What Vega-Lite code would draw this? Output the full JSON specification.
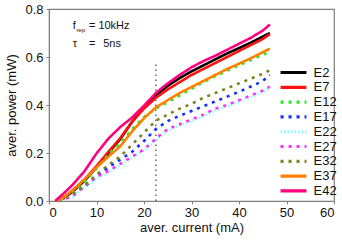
{
  "$schema": "https://vega.github.io/schema/vega-lite/v6.json",
  "autosize": "none",
  "width": 285,
  "height": 192,
  "padding": {"left": 49, "top": 9, "right": 8, "bottom": 39},
  "background": "white",
  "config": {
    "font": "Liberation Sans",
    "view": {"stroke": "#7f7f7f", "strokeWidth": 1.2},
    "axis": {"grid": false, "domainColor": "#7f7f7f", "tickColor": "#7f7f7f", "labelFont": "Liberation Sans", "titleFont": "Liberation Sans", "labelFontSize": 13, "titleFontSize": 13, "titleFontWeight": "normal", "labelColor": "#111", "titleColor": "#111", "tickSize": 3}
  },
  "datasets": {
    "curves": [
      {"s":"E2","x":2,"y":0},{"s":"E2","x":3,"y":0.01},{"s":"E2","x":5,"y":0.04},{"s":"E2","x":7.5,"y":0.085},{"s":"E2","x":10,"y":0.14},{"s":"E2","x":12.5,"y":0.2},{"s":"E2","x":15,"y":0.258},{"s":"E2","x":17.5,"y":0.33},{"s":"E2","x":20,"y":0.39},{"s":"E2","x":22.5,"y":0.44},{"s":"E2","x":25,"y":0.48},{"s":"E2","x":27.5,"y":0.512},{"s":"E2","x":30,"y":0.54},{"s":"E2","x":32.5,"y":0.565},{"s":"E2","x":35,"y":0.59},{"s":"E2","x":37.5,"y":0.615},{"s":"E2","x":40,"y":0.637},{"s":"E2","x":42.5,"y":0.66},{"s":"E2","x":45,"y":0.685},{"s":"E2","x":46.5,"y":0.7},
      {"s":"E7","x":2,"y":0},{"s":"E7","x":3,"y":0.012},{"s":"E7","x":5,"y":0.045},{"s":"E7","x":7.5,"y":0.09},{"s":"E7","x":10,"y":0.145},{"s":"E7","x":12.5,"y":0.205},{"s":"E7","x":15,"y":0.262},{"s":"E7","x":17.5,"y":0.33},{"s":"E7","x":20,"y":0.385},{"s":"E7","x":22.5,"y":0.43},{"s":"E7","x":25,"y":0.465},{"s":"E7","x":27.5,"y":0.495},{"s":"E7","x":30,"y":0.525},{"s":"E7","x":32.5,"y":0.55},{"s":"E7","x":35,"y":0.575},{"s":"E7","x":37.5,"y":0.6},{"s":"E7","x":40,"y":0.625},{"s":"E7","x":42.5,"y":0.65},{"s":"E7","x":45,"y":0.675},{"s":"E7","x":46.5,"y":0.695},
      {"s":"E12","x":2,"y":0},{"s":"E12","x":3,"y":0.01},{"s":"E12","x":5,"y":0.035},{"s":"E12","x":7.5,"y":0.08},{"s":"E12","x":10,"y":0.135},{"s":"E12","x":12.5,"y":0.195},{"s":"E12","x":15,"y":0.24},{"s":"E12","x":17.5,"y":0.3},{"s":"E12","x":20,"y":0.35},{"s":"E12","x":22.5,"y":0.385},{"s":"E12","x":25,"y":0.412},{"s":"E12","x":27.5,"y":0.44},{"s":"E12","x":30,"y":0.468},{"s":"E12","x":32.5,"y":0.495},{"s":"E12","x":35,"y":0.52},{"s":"E12","x":37.5,"y":0.543},{"s":"E12","x":40,"y":0.565},{"s":"E12","x":42.5,"y":0.587},{"s":"E12","x":45,"y":0.61},{"s":"E12","x":46.5,"y":0.62},
      {"s":"E17","x":2,"y":0},{"s":"E17","x":5,"y":0.025},{"s":"E17","x":7.5,"y":0.06},{"s":"E17","x":10,"y":0.1},{"s":"E17","x":12.5,"y":0.14},{"s":"E17","x":15,"y":0.172},{"s":"E17","x":17.5,"y":0.205},{"s":"E17","x":20,"y":0.25},{"s":"E17","x":22.5,"y":0.3},{"s":"E17","x":25,"y":0.333},{"s":"E17","x":27.5,"y":0.355},{"s":"E17","x":30,"y":0.375},{"s":"E17","x":32.5,"y":0.395},{"s":"E17","x":35,"y":0.415},{"s":"E17","x":37.5,"y":0.435},{"s":"E17","x":40,"y":0.455},{"s":"E17","x":42.5,"y":0.477},{"s":"E17","x":45,"y":0.5},{"s":"E17","x":46.5,"y":0.525},
      {"s":"E22","x":2,"y":0},{"s":"E22","x":5,"y":0.018},{"s":"E22","x":7.5,"y":0.058},{"s":"E22","x":10,"y":0.093},{"s":"E22","x":12.5,"y":0.12},{"s":"E22","x":15,"y":0.15},{"s":"E22","x":17.5,"y":0.18},{"s":"E22","x":20,"y":0.21},{"s":"E22","x":22.5,"y":0.255},{"s":"E22","x":25,"y":0.293},{"s":"E22","x":27.5,"y":0.313},{"s":"E22","x":30,"y":0.333},{"s":"E22","x":32.5,"y":0.353},{"s":"E22","x":35,"y":0.378},{"s":"E22","x":37.5,"y":0.394},{"s":"E22","x":40,"y":0.414},{"s":"E22","x":42.5,"y":0.434},{"s":"E22","x":45,"y":0.455},{"s":"E22","x":46.5,"y":0.472},
      {"s":"E27","x":2,"y":0},{"s":"E27","x":5,"y":0.02},{"s":"E27","x":7.5,"y":0.065},{"s":"E27","x":10,"y":0.1},{"s":"E27","x":12.5,"y":0.125},{"s":"E27","x":15,"y":0.155},{"s":"E27","x":17.5,"y":0.185},{"s":"E27","x":20,"y":0.215},{"s":"E27","x":22.5,"y":0.26},{"s":"E27","x":25,"y":0.3},{"s":"E27","x":27.5,"y":0.32},{"s":"E27","x":30,"y":0.34},{"s":"E27","x":32.5,"y":0.36},{"s":"E27","x":35,"y":0.385},{"s":"E27","x":37.5,"y":0.4},{"s":"E27","x":40,"y":0.42},{"s":"E27","x":42.5,"y":0.44},{"s":"E27","x":45,"y":0.46},{"s":"E27","x":46.5,"y":0.477},
      {"s":"E32","x":2,"y":0},{"s":"E32","x":5,"y":0.03},{"s":"E32","x":7.5,"y":0.065},{"s":"E32","x":10,"y":0.11},{"s":"E32","x":12.5,"y":0.15},{"s":"E32","x":15,"y":0.185},{"s":"E32","x":17.5,"y":0.235},{"s":"E32","x":20,"y":0.285},{"s":"E32","x":22.5,"y":0.335},{"s":"E32","x":25,"y":0.36},{"s":"E32","x":27.5,"y":0.385},{"s":"E32","x":30,"y":0.405},{"s":"E32","x":32.5,"y":0.43},{"s":"E32","x":35,"y":0.45},{"s":"E32","x":37.5,"y":0.47},{"s":"E32","x":40,"y":0.49},{"s":"E32","x":42.5,"y":0.51},{"s":"E32","x":45,"y":0.53},{"s":"E32","x":46.5,"y":0.545},
      {"s":"E37","x":1.8,"y":0},{"s":"E37","x":3,"y":0.015},{"s":"E37","x":5,"y":0.045},{"s":"E37","x":7.5,"y":0.09},{"s":"E37","x":10,"y":0.14},{"s":"E37","x":12.5,"y":0.185},{"s":"E37","x":15,"y":0.228},{"s":"E37","x":17.5,"y":0.29},{"s":"E37","x":20,"y":0.345},{"s":"E37","x":22.5,"y":0.39},{"s":"E37","x":25,"y":0.42},{"s":"E37","x":27.5,"y":0.45},{"s":"E37","x":30,"y":0.475},{"s":"E37","x":32.5,"y":0.5},{"s":"E37","x":35,"y":0.525},{"s":"E37","x":37.5,"y":0.55},{"s":"E37","x":40,"y":0.572},{"s":"E37","x":42.5,"y":0.595},{"s":"E37","x":45,"y":0.62},{"s":"E37","x":46.5,"y":0.635},
      {"s":"E42","x":1.3,"y":0},{"s":"E42","x":3,"y":0.03},{"s":"E42","x":5,"y":0.068},{"s":"E42","x":7.5,"y":0.125},{"s":"E42","x":10,"y":0.198},{"s":"E42","x":12.5,"y":0.26},{"s":"E42","x":15,"y":0.308},{"s":"E42","x":17.5,"y":0.348},{"s":"E42","x":20,"y":0.397},{"s":"E42","x":22.5,"y":0.45},{"s":"E42","x":25,"y":0.49},{"s":"E42","x":27.5,"y":0.525},{"s":"E42","x":30,"y":0.557},{"s":"E42","x":32.5,"y":0.583},{"s":"E42","x":35,"y":0.605},{"s":"E42","x":37.5,"y":0.63},{"s":"E42","x":40,"y":0.655},{"s":"E42","x":42.5,"y":0.68},{"s":"E42","x":45,"y":0.71},{"s":"E42","x":46.5,"y":0.735}
    ],
    "marker": [{"x": 22.5, "y": 0, "y2": 0.575}],
    "mainText": [
      {"x": 5.0, "y": 0.715, "t": "f"},
      {"x": 8.4, "y": 0.715, "t": "= 10kHz"},
      {"x": 5.0, "y": 0.64, "t": "τ"},
      {"x": 8.4, "y": 0.64, "t": "="},
      {"x": 11.4, "y": 0.64, "t": "5ns"}
    ],
    "subText": [{"x": 5.8, "y": 0.703, "t": "rep"}]
  },
  "layer": [
    {
      "data": {"name": "marker"},
      "mark": {"type": "rule", "color": "#666", "strokeDash": [1.5, 3.5], "strokeWidth": 1.5},
      "encoding": {
        "x": {"field": "x", "type": "quantitative", "scale": {"domain": [0, 60]}},
        "y": {"field": "y", "type": "quantitative", "scale": {"domain": [0, 0.8]}},
        "y2": {"field": "y2"}
      }
    },
    {
      "data": {"name": "curves"},
      "mark": {"type": "line", "strokeWidth": 2.6},
      "encoding": {
        "x": {"field": "x", "type": "quantitative", "scale": {"domain": [0, 60], "nice": false},
          "axis": {"title": "aver. current (mA)", "values": [0,5,10,15,20,25,30,35,40,45,50,55,60], "labelExpr": "datum.value % 10 == 0 ? datum.label : ''", "labelPadding": 2, "titlePadding": 2}},
        "y": {"field": "y", "type": "quantitative", "scale": {"domain": [0, 0.8], "nice": false},
          "axis": {"title": "aver. power (mW)", "values": [0,0.1,0.2,0.3,0.4,0.5,0.6,0.7,0.8], "labelExpr": "round(datum.value*10) % 2 == 0 ? format(datum.value, '.1f') : ''", "labelPadding": 3, "titlePadding": 6}},
        "color": {"field": "s", "type": "nominal", "sort": ["E2","E7","E12","E17","E22","E27","E32","E37","E42"],
          "scale": {"domain": ["E2","E7","E12","E17","E22","E27","E32","E37","E42"], "range": ["#000000","#ff1010","#22ee22","#1030ff","#88ffff","#ff30ff","#808020","#ff8000","#ff0080"]},
          "legend": {"title": null, "orient": "none", "legendX": 238, "legendY": 57, "symbolType": "M-3.7,0H3.7", "symbolSize": 49, "symbolStrokeWidth": 3.2, "labelFontSize": 13, "labelFont": "Liberation Sans", "labelColor": "#111", "labelOffset": 13.5, "rowPadding": 0.8, "padding": 0}},
        "strokeDash": {"field": "s", "type": "nominal",
          "scale": {"domain": ["E2","E7","E12","E17","E22","E27","E32","E37","E42"], "range": [[1,0],[1,0],[3,5],[3,5],[1.5,2],[3,5],[3,5],[1,0],[1,0]]}},
        "order": {"field": "x", "type": "quantitative"}
      }
    },
    {
      "data": {"name": "mainText"},
      "mark": {"type": "text", "align": "left", "baseline": "alphabetic", "fontSize": 11, "font": "Liberation Sans", "color": "#111"},
      "encoding": {
        "x": {"field": "x", "type": "quantitative"},
        "y": {"field": "y", "type": "quantitative"},
        "text": {"field": "t"}
      }
    },
    {
      "data": {"name": "subText"},
      "mark": {"type": "text", "align": "left", "baseline": "alphabetic", "fontSize": 6, "font": "Liberation Sans", "color": "#111"},
      "encoding": {
        "x": {"field": "x", "type": "quantitative"},
        "y": {"field": "y", "type": "quantitative"},
        "text": {"field": "t"}
      }
    }
  ]
}
